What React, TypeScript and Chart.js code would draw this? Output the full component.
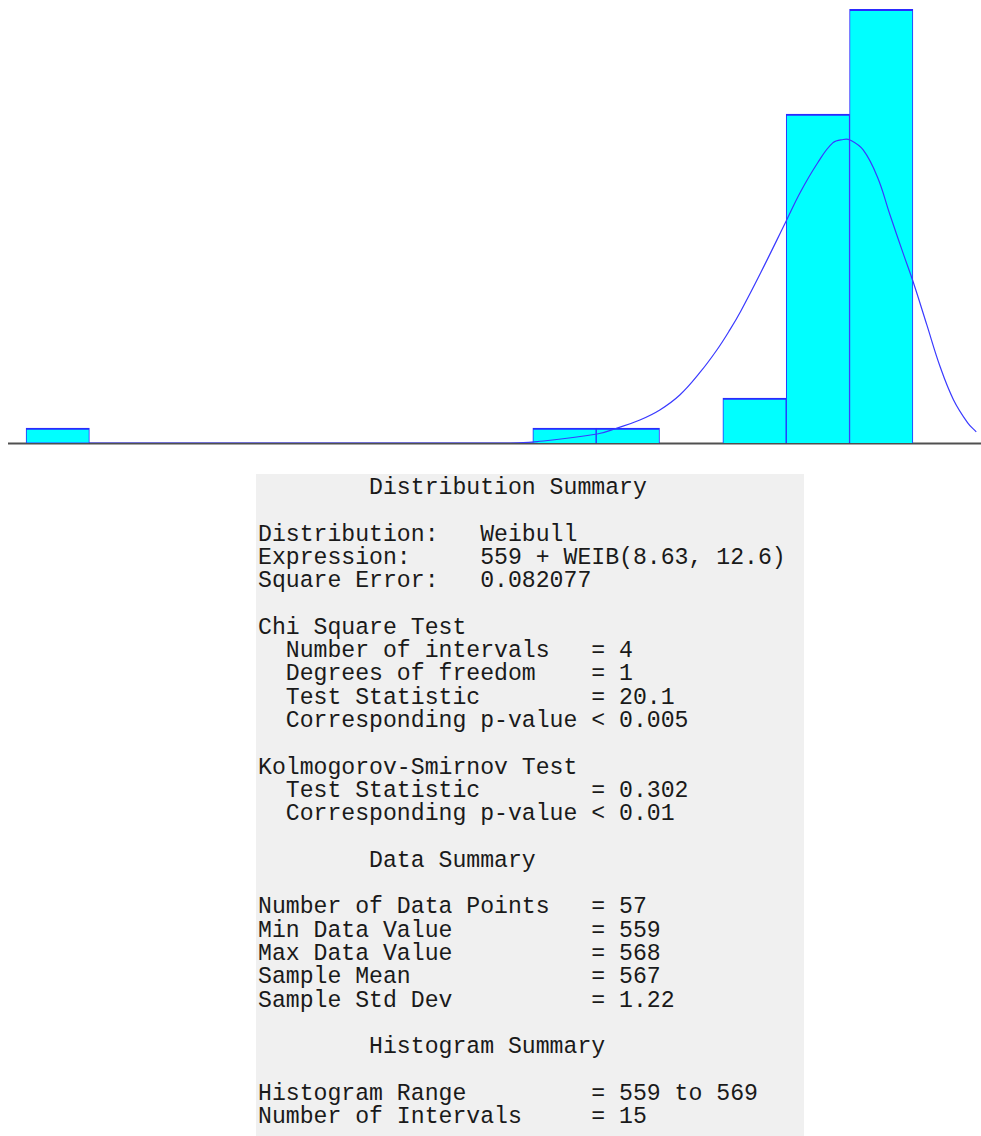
import React, { useEffect, useRef } from "react";
import { Chart, registerables } from "chart.js";

Chart.register(...registerables);

// Histogram: range 559 to 569, 15 intervals
const histStart = 559;
const histEnd = 569;
const intervalCount = 15;
const binCounts = [1, 0, 0, 0, 0, 0, 0, 0, 1, 1, 0, 3, 22, 29, 0];

// Fitted density curve (same units as counts)
const curveX = [
  559, 564.0, 564.1, 564.38, 565.01, 565.22, 565.46, 565.67, 565.88, 566.09,
  566.27, 566.41, 566.52, 566.73, 567.0, 567.15, 567.33, 567.49, 567.6, 567.67,
  567.81, 567.96, 568.09, 568.23, 568.34, 568.48, 568.62, 568.76, 568.91, 569.0,
];
const curveY = [
  0, 0, 0, 0.09, 0.6, 1.0, 1.54, 2.21, 3.21, 4.7,
  6.22, 7.6, 8.8, 11.37, 14.85, 16.79, 18.73, 20.07, 20.3, 20.27,
  19.6, 17.79, 15.3, 12.7, 10.7, 7.9, 5.1, 2.9, 1.35, 0.74,
];

// Axis extents
const xAxisMin = 558.81;
const xAxisMax = 569.05;
const yAxisMax = 29.63;

const summaryLines = [
  "        Distribution Summary",
  "",
  "Distribution:   Weibull",
  "Expression:     559 + WEIB(8.63, 12.6)",
  "Square Error:   0.082077",
  "",
  "Chi Square Test",
  "  Number of intervals   = 4",
  "  Degrees of freedom    = 1",
  "  Test Statistic        = 20.1",
  "  Corresponding p-value < 0.005",
  "",
  "Kolmogorov-Smirnov Test",
  "  Test Statistic        = 0.302",
  "  Corresponding p-value < 0.01",
  "",
  "        Data Summary",
  "",
  "Number of Data Points   = 57",
  "Min Data Value          = 559",
  "Max Data Value          = 568",
  "Sample Mean             = 567",
  "Sample Std Dev          = 1.22",
  "",
  "        Histogram Summary",
  "",
  "Histogram Range         = 559 to 569",
  "Number of Intervals     = 15",
];

const baselinePlugin = {
  id: "baseline",
  beforeDatasetsDraw(chart: any) {
    const { ctx, chartArea, scales } = chart;
    const y = scales.y.getPixelForValue(0);
    ctx.save();
    ctx.strokeStyle = "#505050";
    ctx.lineWidth = 2;
    ctx.beginPath();
    ctx.moveTo(chartArea.left, y + 0.5);
    ctx.lineTo(chartArea.right, y + 0.5);
    ctx.stroke();
    ctx.restore();
  },
};

export default function App() {
  const canvasRef = useRef<HTMLCanvasElement | null>(null);

  useEffect(() => {
    if (!canvasRef.current) return;
    const binWidth = (histEnd - histStart) / intervalCount;
    const barData = binCounts.map((c, i) => ({
      x: histStart + (i + 0.5) * binWidth,
      y: c,
    }));
    const lineData = curveX.map((x, i) => ({ x, y: curveY[i] }));

    const chart = new Chart(canvasRef.current, {
      type: "bar",
      data: {
        datasets: [
          {
            type: "line",
            data: lineData,
            borderColor: "#3a3aff",
            borderWidth: 1.2,
            pointRadius: 0,
            fill: false,
            tension: 0.4,
            order: 1,
          } as any,
          {
            type: "bar",
            data: barData,
            backgroundColor: "#00ffff",
            borderColor: "#2a2aff",
            borderWidth: { top: 2, left: 1, right: 1, bottom: 0 },
            borderSkipped: false,
            barPercentage: 1,
            categoryPercentage: 1,
            grouped: false,
            order: 2,
          } as any,
        ],
      },
      options: {
        responsive: false,
        animation: false,
        devicePixelRatio: 1,
        layout: { padding: { left: 8, right: 0, top: 0, bottom: 3 } },
        plugins: {
          legend: { display: false },
          tooltip: { enabled: false },
        },
        scales: {
          x: {
            type: "linear",
            min: xAxisMin,
            max: xAxisMax,
            offset: false,
            display: false,
            grid: { offset: false },
            ticks: { stepSize: 2, includeBounds: false } as any,
          },
          y: {
            type: "linear",
            min: 0,
            max: yAxisMax,
            display: false,
          },
        },
      },
      plugins: [baselinePlugin],
    });
    return () => chart.destroy();
  }, []);

  return (
    <div style={{ position: "absolute", left: 0, top: 0, width: 981, height: 1136 }}>
      <canvas
        ref={canvasRef}
        width={981}
        height={446}
        style={{ position: "absolute", left: 0, top: 0, width: 981, height: 446 }}
      />
      <div
        style={{
          position: "absolute",
          left: 256,
          top: 474,
          width: 548,
          height: 662,
          background: "#f0f0f0",
          boxSizing: "border-box",
          paddingLeft: 2,
          paddingTop: 3,
        }}
      >
        <pre
          style={{
            margin: 0,
            fontFamily: '"Liberation Mono", "DejaVu Sans Mono", monospace',
            fontSize: "23.15px",
            lineHeight: "23.3px",
            color: "#1a1a1a",
            whiteSpace: "pre",
          }}
        >
          {summaryLines.join("\n")}
        </pre>
      </div>
    </div>
  );
}
